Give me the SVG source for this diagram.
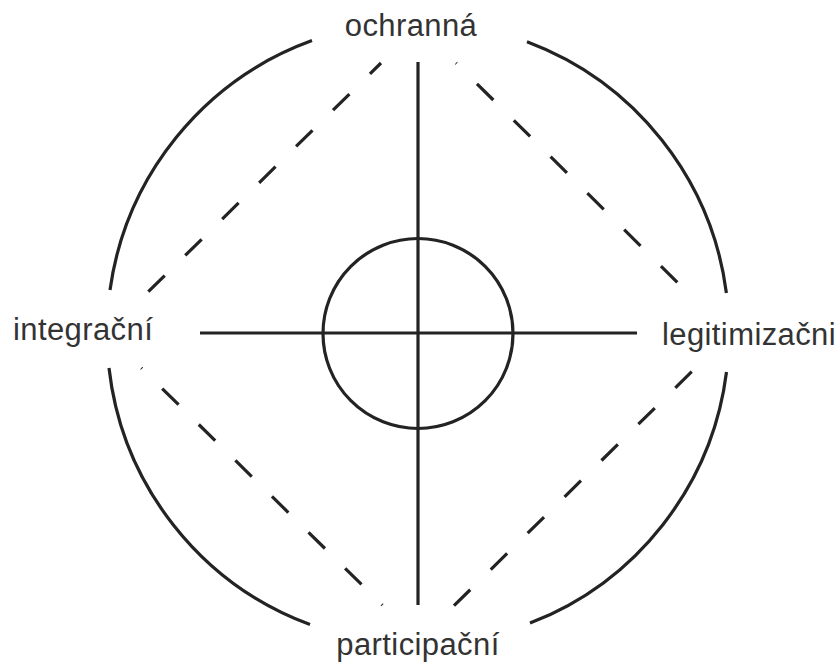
<svg xmlns="http://www.w3.org/2000/svg" width="836" height="663" viewBox="0 0 836 663">
<style>
.ln{fill:none;stroke:#232323;stroke-width:3.2}
.ds{fill:none;stroke:#232323;stroke-width:3.2;stroke-dasharray:23 28.8}
.lb{font-family:"Liberation Sans",Arial,sans-serif;font-size:31px;fill:#333333;letter-spacing:0.4px}
</style>
<rect width="836" height="663" fill="#ffffff"/>
<g id="outer-circle">
<path class="ln" d="M527 41.7 A311 311 0 0 1 726.4 293"/>
<path class="ln" d="M726.5 372 A311 311 0 0 1 530 623.1"/>
<path class="ln" d="M310 624.6 A311 311 0 0 1 109 368"/>
<path class="ln" d="M110 290 A311 311 0 0 1 312 40.6"/>
</g>
<g id="connectors">
<line class="ln" x1="418" y1="62" x2="418" y2="605"/>
<line class="ln" x1="200" y1="333" x2="637" y2="333"/>
<path class="ds" d="M148.3 291.7 L381 63"/>
<path class="ds" d="M677.3 282.3 L456 63"/>
<path class="ds" d="M691.7 371.7 L454 605.7"/>
<path class="ln" style="stroke-dasharray:1 28.3 23 28.3 23 28.3 23 28.3 23 28.3 23 28.3 23 28.3 1 100" d="M141.3 368 L382.7 605.3"/>
</g>
<g id="center">
<circle class="ln" cx="418" cy="333.5" r="95"/>
</g>
<g id="ochranna"><text class="lb" x="411" y="36" text-anchor="middle">ochranná</text></g>
<g id="integracni"><text class="lb" x="13" y="340">integrační</text></g>
<g id="legitimizacni"><text class="lb" x="662" y="345">legitimizačni</text></g>
<g id="participacni"><text class="lb" x="418" y="655" text-anchor="middle">participační</text></g>
</svg>
